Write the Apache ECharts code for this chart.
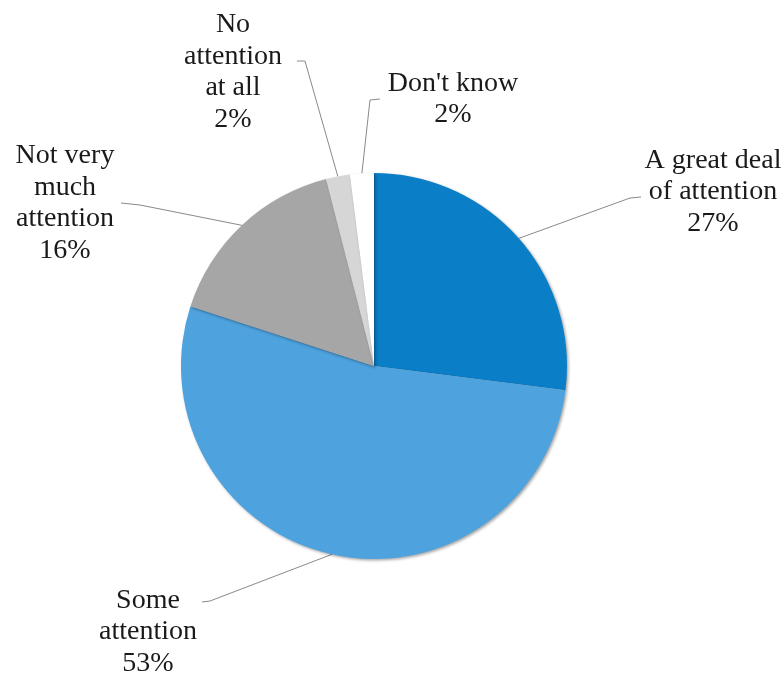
<!DOCTYPE html>
<html>
<head>
<meta charset="utf-8">
<script src="https://cdn.jsdelivr.net/npm/echarts@6/dist/echarts.min.js"></script>
<style>
  html, body { margin: 0; padding: 0; background: #fff; }
  #chart { width: 784px; height: 675px; }
</style>
</head>
<body>
<div id="chart"></div>
<script>
// Attention paid to the issue, share of respondents (%)
const categories = [
  'A great deal\nof attention',
  'Some\nattention',
  'Not very\nmuch\nattention',
  'No\nattention\nat all',
  "Don't know"
];
const shares = [27, 53, 16, 2, 2];
const sliceColors = ['#0b7ec8', '#4ea2de', '#a6a6a6', '#d6d6d6', '#ffffff'];

// Centre of each label block on the page
const labelCenters = [
  [713, 192],
  [148, 632],
  [65, 203],
  [233, 72],
  [453, 99]
];
// Elbow and end of each leader line (the start sits on the slice edge)
const leaderBends = [
  [[630, 198], [641, 197]],
  [[210, 601], [202, 602]],
  [[140, 205], [121, 203]],
  [[305, 61], [297, 61]],
  [[370, 100], [380, 99]]
];

const chart = echarts.init(document.getElementById('chart'), null, { renderer: 'canvas' });

chart.setOption({
  animation: false,
  backgroundColor: '#ffffff',
  series: [{
    type: 'pie',
    center: [374, 366],
    radius: 193,
    startAngle: 90,
    clockwise: true,
    avoidLabelOverlap: false,
    data: categories.map((name, i) => ({
      name: name,
      value: shares[i],
      itemStyle: { color: sliceColors[i] }
    })),
    itemStyle: {
      borderWidth: 0,
      shadowBlur: 3,
      shadowOffsetX: 1.5,
      shadowOffsetY: 1.5,
      shadowColor: 'rgba(0,0,0,0.35)'
    },
    label: {
      show: true,
      formatter: '{b}\n{c}%',
      fontFamily: '"Liberation Serif", "DejaVu Serif", serif',
      fontSize: 28,
      lineHeight: 31.5,
      color: '#1a1a1a',
      align: 'center'
    },
    labelLine: {
      show: true,
      length: 20,
      length2: 20,
      smooth: false,
      lineStyle: { color: '#8a8a8a', width: 1 }
    },
    labelLayout: function (params) {
      const i = params.dataIndex;
      const c = labelCenters[i];
      const out = { x: c[0], y: c[1], align: 'center', verticalAlign: 'middle' };
      const pts = params.labelLinePoints;
      if (pts && pts.length) {
        out.labelLinePoints = [pts[0], leaderBends[i][0], leaderBends[i][1]];
      }
      return out;
    },
    emphasis: { disabled: true }
  }]
});
</script>
</body>
</html>
